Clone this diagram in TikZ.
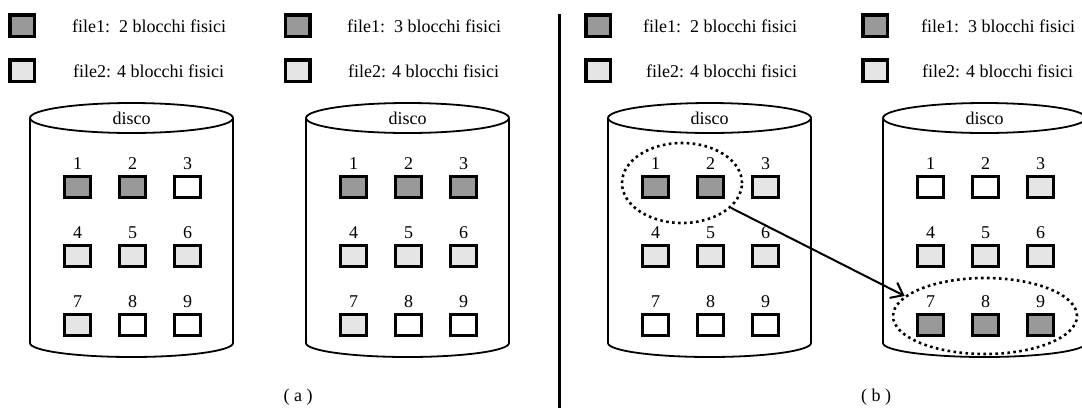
\documentclass[tikz,border=0pt]{standalone}
\usepackage{fontspec}
\setmainfont{Liberation Serif}
\usetikzlibrary{shapes.geometric,arrows.meta}
\tikzset{
  cyl/.style={line width=1.8pt},
  blk/.style={draw, line width=3pt, minimum width=26pt, minimum height=21pt, inner sep=0pt},
  fa/.style={blk, fill=black!40},
  fb/.style={blk, fill=black!10},
  fo/.style={blk, fill=white},
  leg/.style={draw, line width=3.5pt, minimum width=24.5pt, minimum height=21.5pt, inner sep=0pt},
  txt/.style={font=\fontsize{18}{21}\selectfont, inner sep=0pt},
  dotsel/.style={draw, ellipse, line width=2.6pt, dash pattern=on 2.6pt off 3.4pt, inner sep=0pt},
  arr/.style={line width=2pt, -{Straight Barb[length=11pt,width=17pt]}},
}
\newcommand\drawdisk[3]{%
  \pgfmathsetmacro\cx{#2+101.5}
  \draw[cyl] (\cx,118) ellipse [x radius=101.5, y radius=15];
  \draw[cyl] (#2,118) -- (#2,343) arc[start angle=180,end angle=0,x radius=101.5,y radius=14] -- (#2+203,118);
  \node[txt] (#1-disco) at (\cx,118) {disco};
  \foreach \s [count=\i from 0] in {#3} {
    \pgfmathtruncatemacro\cc{mod(\i,3)}
    \pgfmathtruncatemacro\rr{div(\i,3)}
    \pgfmathtruncatemacro\nn{\i+1}
    \node[\s] (#1-\nn) at (#2+47.5+55*\cc, 187+69*\rr) {};
    \node[txt] (#1-n\nn) at (#2+47.5+55*\cc, 163.5+69*\rr) {\nn};
  }
}
\begin{document}
\begin{tikzpicture}[x=1pt,y=-1pt]
\useasboundingbox (0,0) rectangle (1082,408);
\clip (0,0) rectangle (1082,408);

% legends (a)
\node[leg, fill=black!40] (la1) at (22,25.5) {};
\node[txt, anchor=west] (ta1) at (72,26) {file1:\ \ 2 blocchi fisici};
\node[leg, fill=black!10] (la2) at (22,70.5) {};
\node[txt, anchor=west] (ta2) at (73,71) {file2: 4 blocchi fisici};
\node[leg, fill=black!40] (la3) at (297.5,25.5) {};
\node[txt, anchor=west] (ta3) at (347,26) {file1:\ \ 3 blocchi fisici};
\node[leg, fill=black!10] (la4) at (297.5,70.5) {};
\node[txt, anchor=west] (ta4) at (348,71) {file2: 4 blocchi fisici};

% legends (b)
\node[leg, fill=black!40] (lb1) at (598,25.5) {};
\node[txt, anchor=west] (tb1) at (643,26) {file1:\ \ 2 blocchi fisici};
\node[leg, fill=black!10] (lb2) at (598,70.5) {};
\node[txt, anchor=west] (tb2) at (646,71) {file2: 4 blocchi fisici};
\node[leg, fill=black!40] (lb3) at (875,25.5) {};
\node[txt, anchor=west] (tb3) at (921,26) {file1:\ \ 3 blocchi fisici};
\node[leg, fill=black!10] (lb4) at (875,70.5) {};
\node[txt, anchor=west] (tb4) at (922,71) {file2: 4 blocchi fisici};

% disks
\drawdisk{a1}{30}{fa,fa,fo,fb,fb,fb,fb,fo,fo}
\drawdisk{a2}{306}{fa,fa,fa,fb,fb,fb,fb,fo,fo}
\drawdisk{b1}{608}{fa,fa,fb,fb,fb,fb,fo,fo,fo}
\drawdisk{b2}{883}{fo,fo,fb,fb,fb,fb,fa,fa,fa}

% divider
\draw[line width=3pt] (559,14) -- (559,408);

% selections and arrow
\node[dotsel, minimum width=120pt, minimum height=80pt] (e1) at (682,183) {};
\node[dotsel, minimum width=184pt, minimum height=76pt] (e2) at (985,316) {};
\draw[arr] (e1) -- (e2.166);

% captions
\node[txt] (capa) at (298,397) {( a )};
\node[txt] (capb) at (876,397) {( b )};
\end{tikzpicture}
\end{document}
